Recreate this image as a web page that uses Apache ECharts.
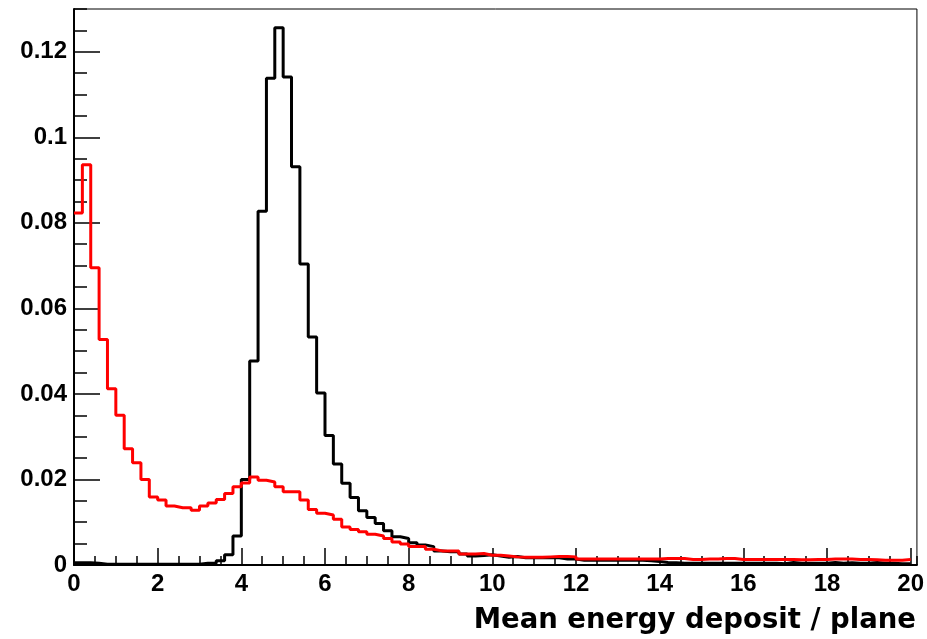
<!DOCTYPE html>
<html>
<head>
<meta charset="utf-8">
<title>Mean energy deposit / plane</title>
<script src="https://cdn.jsdelivr.net/npm/echarts@6.0.0/dist/echarts.min.js"></script>
<style>
    html, body { margin: 0; padding: 0; background: #fff; }
    #chart { width: 927px; height: 639px; }
</style>
</head>
<body>
<div id="chart"></div>
<script>
    // histogram binning: 100 bins of 0.2 starting at 0
    const xMin = 0;
    const binWidth = 0.2;

    // black histogram (peak near 5)
    const blackValues = [
        0.0005, 0.0005, 0.0004, 0.0002, 0.0002, 0.0002, 0.0002, 0.0002, 0.0002, 0.0002,
        0.0002, 0.0002, 0.0002, 0.0002, 0.0002, 0.0004, 0.0004, 0.0010, 0.0024, 0.0068,
        0.0200, 0.0477, 0.0827, 0.1138, 0.1256, 0.1141, 0.0931, 0.0704, 0.0533, 0.0402,
        0.0303, 0.0236, 0.0191, 0.0158, 0.0127, 0.0111, 0.0097, 0.0080, 0.0066, 0.0062,
        0.0052, 0.0047, 0.0043, 0.0033, 0.0031, 0.0031, 0.0026, 0.0021, 0.0022, 0.0024,
        0.0021, 0.0018, 0.0020, 0.0017, 0.0017, 0.0017, 0.0017, 0.0017, 0.0014, 0.0014,
        0.0011, 0.0011, 0.0011, 0.0011, 0.0011, 0.0011, 0.0011, 0.0011, 0.0010, 0.0008,
        0.0006, 0.0005, 0.0004, 0.0004, 0.0004, 0.0004, 0.0004, 0.0004, 0.0004, 0.0004,
        0.0004, 0.0004, 0.0004, 0.0004, 0.0003, 0.0006, 0.0004, 0.0004, 0.0004, 0.0004,
        0.0006, 0.0004, 0.0005, 0.0004, 0.0004, 0.0006, 0.0004, 0.0004, 0.0003, 0.0003
    ];

    // red histogram (peak near 0, bump near 4.4)
    const redValues = [
        0.0823, 0.0936, 0.0695, 0.0527, 0.0412, 0.0350, 0.0272, 0.0239, 0.0200, 0.0159,
        0.0152, 0.0138, 0.0134, 0.0134, 0.0128, 0.0138, 0.0145, 0.0153, 0.0167, 0.0183,
        0.0192, 0.0206, 0.0198, 0.0194, 0.0183, 0.0171, 0.0171, 0.0152, 0.0130, 0.0121,
        0.0117, 0.0107, 0.0089, 0.0083, 0.0078, 0.0072, 0.0068, 0.0062, 0.0054, 0.0049,
        0.0043, 0.0043, 0.0037, 0.0033, 0.0033, 0.0033, 0.0026, 0.0026, 0.0027, 0.0023,
        0.0023, 0.0021, 0.0019, 0.0018, 0.0018, 0.0018, 0.0019, 0.0020, 0.0020, 0.0019,
        0.0014, 0.0014, 0.0014, 0.0014, 0.0014, 0.0014, 0.0014, 0.0014, 0.0014, 0.0014,
        0.0015, 0.0015, 0.0015, 0.0013, 0.0013, 0.0014, 0.0014, 0.0015, 0.0015, 0.0013,
        0.0013, 0.0013, 0.0013, 0.0013, 0.0013, 0.0013, 0.0012, 0.0012, 0.0013, 0.0013,
        0.0014, 0.0014, 0.0014, 0.0013, 0.0013, 0.0012, 0.0011, 0.0011, 0.0011, 0.0013
    ];

    // tick labels
    const xTickValues = [0, 2, 4, 6, 8, 10, 12, 14, 16, 18, 20];
    const yTickValues = [0, 0.02, 0.04, 0.06, 0.08, 0.1, 0.12];
    const xTitle = 'Mean energy deposit / plane';

    // left bin edges + closing edge, drawn with step:'end'
    function toSteps(values) {
        let pts = values.map(function (v, i) {
            return [+(xMin + i * binWidth).toFixed(4), v];
        });
        pts.push([+(xMin + values.length * binWidth).toFixed(4), values[values.length - 1]]);
        return pts;
    }

    let chart = echarts.init(document.getElementById('chart'), null, {renderer: 'canvas'});

    let labelFont = {
        fontFamily: '"Liberation Sans", Arial, Helvetica, sans-serif',
        fontWeight: 'bold',
        fontSize: 24,
        color: '#000'
    };

    let option = {
        animation: false,
        backgroundColor: '#fff',
        grid: {
            left: 74, right: 4, top: 9, bottom: 74,
            show: true, borderColor: '#000', borderWidth: 1, backgroundColor: 'transparent'
        },
        xAxis: [{
            type: 'value', min: 0, max: 20.15,
            axisLine: {show: true, onZero: false, lineStyle: {color: '#000', width: 2}},
            axisTick: {show: true, inside: true, length: 17, customValues: xTickValues, lineStyle: {color: '#000', width: 1.5}},
            axisLabel: Object.assign({customValues: xTickValues, margin: 7}, labelFont),
            splitLine: {show: false},
            name: xTitle,
            nameLocation: 'end',
            nameGap: 0,
            nameTextStyle: {
                fontFamily: '"DejaVu Sans", Verdana, sans-serif',
                fontWeight: 'bold', fontSize: 27.5, color: '#000',
                align: 'right', verticalAlign: 'top',
                padding: [42, 1, 0, 0]
            }
        }, {
            // minor ticks
            type: 'value', min: 0, max: 20.15, interval: 0.5, position: 'bottom',
            axisLine: {show: false},
            axisTick: {show: true, inside: true, length: 9, lineStyle: {color: '#000', width: 1.5}},
            axisLabel: {show: false},
            splitLine: {show: false}
        }],
        yAxis: [{
            type: 'value', min: 0, max: 0.13,
            axisLine: {show: true, onZero: false, lineStyle: {color: '#000', width: 2}},
            axisTick: {show: true, inside: true, length: 26, customValues: yTickValues, lineStyle: {color: '#000', width: 1.5}},
            axisLabel: Object.assign({customValues: yTickValues, margin: 7}, labelFont),
            splitLine: {show: false}
        }, {
            type: 'value', min: 0, max: 0.13, interval: 0.005, position: 'left',
            axisLine: {show: false},
            axisTick: {show: true, inside: true, length: 13, lineStyle: {color: '#000', width: 1.5}},
            axisLabel: {show: false},
            splitLine: {show: false}
        }],
        series: [{
            name: 'black',
            type: 'line',
            step: 'end',
            symbol: 'none',
            xAxisIndex: 0, yAxisIndex: 0,
            lineStyle: {color: '#000', width: 3},
            data: toSteps(blackValues)
        }, {
            name: 'red',
            type: 'line',
            step: 'end',
            symbol: 'none',
            xAxisIndex: 0, yAxisIndex: 0,
            lineStyle: {color: '#ff0000', width: 3},
            data: toSteps(redValues)
        }]
    };

    chart.setOption(option);
</script>
</body>
</html>
